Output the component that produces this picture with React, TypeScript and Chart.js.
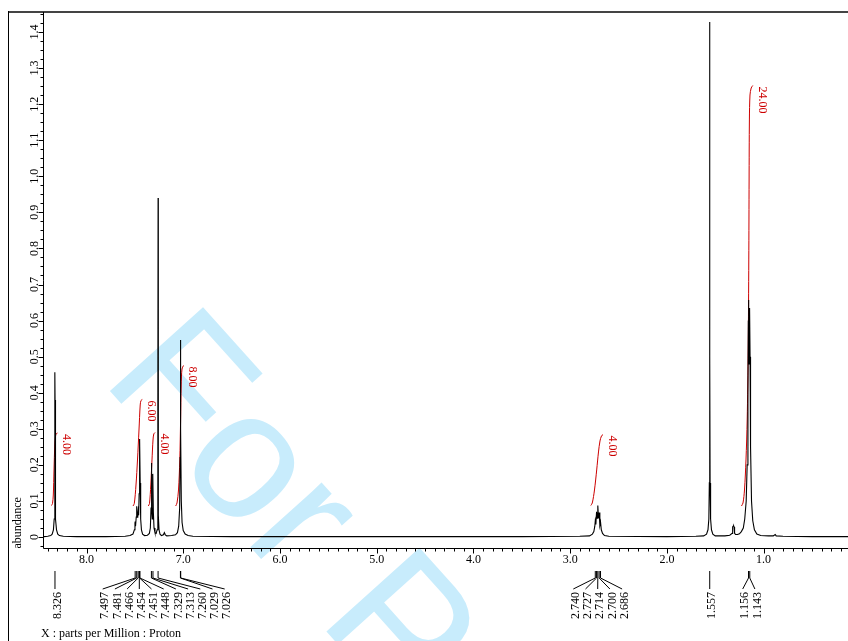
import React, { useEffect, useRef } from "react";
import { Chart, registerables } from "chart.js";

Chart.register(...registerables);

// ---- axis ranges (ppm reversed, abundance) ----
const X_MIN = 0.1275;
const X_MAX = 8.4394;
const Y_MIN = -0.0305;
const Y_MAX = 1.4555;

const xTickValues = [8, 7, 6, 5, 4, 3, 2, 1];
const xTickLabels = ["8.0", "7.0", "6.0", "5.0", "4.0", "3.0", "2.0", "1.0"];
const yTickValues = [0, 0.1, 0.2, 0.3, 0.4, 0.5, 0.6, 0.7, 0.8, 0.9, 1.0, 1.1, 1.2, 1.3, 1.4];
const yTickLabels = ["0", "0.1", "0.2", "0.3", "0.4", "0.5", "0.6", "0.7", "0.8", "0.9", "1.0", "1.1", "1.2", "1.3", "1.4"];

// ---- spectrum (ppm, abundance) ----
const spectrumPpm = [
  8.4394, 8.4, 8.37, 8.355, 8.342, 8.334, 8.329, 8.327, 8.326, 8.325, 8.323, 8.318, 8.31, 8.297, 8.28, 8.24, 8.1, 7.8,
  7.6, 7.55, 7.52, 7.505, 7.499, 7.497, 7.493, 7.486, 7.481, 7.476, 7.47, 7.466, 7.461, 7.456, 7.454, 7.452, 7.45, 7.448,
  7.445, 7.44, 7.432, 7.42, 7.4, 7.37, 7.35, 7.34, 7.333, 7.329, 7.325, 7.32, 7.317, 7.313, 7.309, 7.302, 7.292, 7.28,
  7.27, 7.264, 7.261, 7.26, 7.259, 7.256, 7.25, 7.24, 7.225, 7.205, 7.195, 7.185, 7.17, 7.12, 7.08, 7.06, 7.047, 7.037,
  7.032, 7.03, 7.029, 7.0275, 7.026, 7.024, 7.02, 7.012, 7.0, 6.98, 6.95, 6.9, 6.5, 5.5, 4.5, 3.5, 2.9, 2.8, 2.77, 2.755,
  2.745, 2.74, 2.734, 2.727, 2.721, 2.714, 2.707, 2.7, 2.693, 2.686, 2.678, 2.665, 2.645, 2.6, 2.0, 1.7, 1.62, 1.59, 1.575,
  1.566, 1.561, 1.559, 1.557, 1.555, 1.553, 1.548, 1.539, 1.525, 1.5, 1.4, 1.35, 1.325, 1.32, 1.315, 1.31, 1.305, 1.3,
  1.29, 1.27, 1.25, 1.23, 1.21, 1.195, 1.18, 1.17, 1.162, 1.158, 1.156, 1.153, 1.15, 1.147, 1.143, 1.14, 1.135, 1.125,
  1.112, 1.095, 1.07, 1.03, 0.95, 0.9, 0.88, 0.87, 0.8, 0.5, 0.1275,
];
const spectrumAbundance = [
  0.001, 0.002, 0.004, 0.008, 0.02, 0.05, 0.15, 0.38, 0.457, 0.38, 0.15, 0.05, 0.02, 0.008, 0.004, 0.002, 0.001, 0.001,
  0.002, 0.004, 0.008, 0.02, 0.038, 0.043, 0.03, 0.055, 0.085, 0.055, 0.06, 0.072, 0.06, 0.12, 0.18, 0.15, 0.26, 0.272,
  0.15, 0.05, 0.02, 0.008, 0.004, 0.005, 0.01, 0.025, 0.08, 0.205, 0.08, 0.05, 0.07, 0.175, 0.07, 0.025, 0.012, 0.01,
  0.02, 0.06, 0.35, 0.94, 0.35, 0.06, 0.02, 0.008, 0.004, 0.006, 0.012, 0.006, 0.003, 0.004, 0.006, 0.012, 0.03, 0.08,
  0.22, 0.45, 0.546, 0.44, 0.505, 0.3, 0.1, 0.04, 0.018, 0.008, 0.004, 0.002, 0.001, 0.001, 0.001, 0.001, 0.002, 0.003, 0.008, 0.015,
  0.03, 0.045, 0.035, 0.07, 0.052, 0.087, 0.052, 0.068, 0.033, 0.042, 0.02, 0.01, 0.004, 0.002, 0.001, 0.002, 0.003, 0.008, 0.02,
  0.05, 0.15, 0.5, 1.428, 0.5, 0.15, 0.05, 0.02, 0.008, 0.003, 0.003, 0.005, 0.01, 0.028, 0.03, 0.031, 0.028, 0.01,
  0.007, 0.007, 0.009, 0.015, 0.025, 0.05, 0.1, 0.2, 0.4, 0.6, 0.657, 0.55, 0.48, 0.55, 0.635, 0.5, 0.25, 0.1,
  0.045, 0.02, 0.008, 0.004, 0.003, 0.003, 0.007, 0.003, 0.002, 0.001, 0.001,
];

// ---- integral curves ----
const integral1Ppm = [8.3618, 8.3515, 8.3432, 8.336, 8.3277, 8.3205, 8.3101, 8.2998];
const integral1Val = [0.0873, 0.0929, 0.1164, 0.1857, 0.2551, 0.28, 0.2869, 0.2883];
const integral2Ppm = [7.5193, 7.5058, 7.4883, 7.4728, 7.4573, 7.4448, 7.4366, 7.4231];
const integral2Val = [0.0859, 0.0929, 0.1442, 0.2135, 0.2966, 0.366, 0.3784, 0.3812];
const integral3Ppm = [7.3611, 7.3487, 7.3353, 7.3229, 7.3125, 7.3043, 7.2918];
const integral3Val = [0.0859, 0.0929, 0.1442, 0.2135, 0.2689, 0.2856, 0.2897];
const integral4Ppm = [7.0779, 7.0644, 7.0489, 7.0355, 7.0272, 7.021, 7.0127, 6.9972];
const integral4Val = [0.0859, 0.0943, 0.1303, 0.2135, 0.3244, 0.4214, 0.4658, 0.4755];
const integral5Ppm = [2.7866, 2.7711, 2.7484, 2.7256, 2.707, 2.6915, 2.676, 2.6605];
const integral5Val = [0.0873, 0.0943, 0.1303, 0.1858, 0.2357, 0.2662, 0.28, 0.2842];
const integral6Ppm = [1.2286, 1.2131, 1.1976, 1.1821, 1.1697, 1.1593, 1.1531, 1.15, 1.1469, 1.1407, 1.1283, 1.1118];
const integral6Val = [0.0859, 0.0943, 0.1303, 0.2135, 0.3244, 0.5184, 0.768, 0.9897, 1.1561, 1.2254, 1.2448, 1.2517];
const integralLabels = ["4.00", "6.00", "4.00", "8.00", "4.00", "24.00"];

// ---- peak picking labels ----
const peakGroup1 = ["8.326"];
const peakGroup2 = ["7.497", "7.481", "7.466", "7.454", "7.451", "7.448", "7.329", "7.313", "7.260", "7.029", "7.026"];
const peakGroup3 = ["2.740", "2.727", "2.714", "2.700", "2.686"];
const peakGroup4 = ["1.557"];
const peakGroup5 = ["1.156", "1.143"];

const AXIS_TITLE_X = "X : parts per Million : Proton";
const AXIS_TITLE_Y = "abundance";
const WATERMARK = "For Peer Review";

const SERIF = "'Liberation Serif', 'Times New Roman', serif";
const RED = "rgb(205,0,0)";

function pts(xs: number[], ys: number[]) {
  return xs.map((x, i) => ({ x, y: ys[i] }));
}

const decorPlugin = {
  id: "nmrDecor",
  beforeDraw(chart: any) {
    const ctx = chart.ctx as CanvasRenderingContext2D;
    ctx.save();
    ctx.fillStyle = "#ffffff";
    ctx.fillRect(0, 0, chart.width, chart.height);
    // watermark
    ctx.translate(100, 380);
    ctx.rotate((48 * Math.PI) / 180);
    ctx.font = "182px 'Liberation Sans', Arial, sans-serif";
    ctx.fillStyle = "rgb(200,236,252)";
    ctx.textBaseline = "alphabetic";
    ctx.textAlign = "left";
    ctx.fillText(WATERMARK, 0, 0);
    ctx.restore();
  },
  afterDraw(chart: any) {
    const ctx = chart.ctx as CanvasRenderingContext2D;
    const xs = chart.scales.x;
    const ys = chart.scales.y;
    const area = chart.chartArea;
    const axisX = area.left - 0.5;
    const axisY = area.bottom + 0.5;
    ctx.save();

    // frame
    ctx.fillStyle = "#444";
    ctx.fillRect(8, 11, chart.width - 8, 2);
    ctx.fillStyle = "#000";
    ctx.fillRect(8, 11, 1, chart.height - 11);

    ctx.strokeStyle = "#000";
    ctx.lineWidth = 1;
    ctx.beginPath();
    ctx.moveTo(axisX, area.top);
    ctx.lineTo(axisX, axisY);
    ctx.lineTo(area.right, axisY);
    ctx.stroke();

    // x ticks: every 0.1 ppm
    ctx.beginPath();
    for (let k = 2; k <= 84; k++) {
      const px = Math.round(xs.getPixelForValue(k / 10)) + 0.5;
      const len = k % 10 === 0 ? 5 : 3;
      ctx.moveTo(px, axisY);
      ctx.lineTo(px, axisY + len);
    }
    // y ticks every 0.025
    for (let k = -1; k <= 58; k++) {
      const v = k * 0.025;
      const py = Math.round(ys.getPixelForValue(v)) + 0.5;
      const len = k % 4 === 0 ? 5 : 3;
      ctx.moveTo(axisX - len, py);
      ctx.lineTo(axisX, py);
    }
    ctx.stroke();

    ctx.fillStyle = "#000";
    ctx.font = `12px ${SERIF}`;
    ctx.textAlign = "center";
    ctx.textBaseline = "middle";
    xTickValues.forEach((v, i) => {
      ctx.fillText(xTickLabels[i], xs.getPixelForValue(v), axisY + 11);
    });
    yTickValues.forEach((v, i) => {
      const py = ys.getPixelForValue(v);
      ctx.save();
      ctx.translate(35, py);
      ctx.rotate(-Math.PI / 2);
      ctx.fillText(yTickLabels[i], 0, 0);
      ctx.restore();
    });

    // axis titles
    ctx.save();
    ctx.translate(18, axisY);
    ctx.rotate(-Math.PI / 2);
    ctx.textAlign = "left";
    ctx.fillText(AXIS_TITLE_Y, 0, 0);
    ctx.restore();
    ctx.textAlign = "left";
    ctx.fillText(AXIS_TITLE_X, 41, 634);

    // peak labels
    const groups = [peakGroup1, peakGroup2, peakGroup3, peakGroup4, peakGroup5];
    const startPx: (number | null)[] = [null, 102.7, 573.3, null, 742.7];
    const spacing = 12.2;
    ctx.beginPath();
    groups.forEach((g, gi) => {
      g.forEach((lab, i) => {
        const peakX = xs.getPixelForValue(parseFloat(lab));
        const sp = startPx[gi];
        const endX = sp === null ? peakX : sp + i * spacing;
        ctx.moveTo(peakX, 571);
        ctx.lineTo(peakX, 578);
        ctx.lineTo(endX, 589);
      });
    });
    ctx.stroke();
    groups.forEach((g, gi) => {
      g.forEach((lab, i) => {
        const peakX = xs.getPixelForValue(parseFloat(lab));
        const sp = startPx[gi];
        const endX = sp === null ? peakX : sp + i * spacing;
        ctx.save();
        ctx.translate(endX + 2.5, 592);
        ctx.rotate(-Math.PI / 2);
        ctx.textAlign = "right";
        ctx.fillText(lab, 0, 0);
        ctx.restore();
      });
    });

    // integral labels
    ctx.fillStyle = RED;
    const ints = [
      [integral1Ppm, integral1Val],
      [integral2Ppm, integral2Val],
      [integral3Ppm, integral3Val],
      [integral4Ppm, integral4Val],
      [integral5Ppm, integral5Val],
      [integral6Ppm, integral6Val],
    ];
    ints.forEach(([p, v], i) => {
      const lx = xs.getPixelForValue(p[p.length - 1]);
      const ly = ys.getPixelForValue(v[v.length - 1]);
      ctx.save();
      ctx.translate(lx + 9, ly + 1);
      ctx.rotate(Math.PI / 2);
      ctx.textAlign = "left";
      ctx.fillText(integralLabels[i], 0, 0);
      ctx.restore();
    });

    ctx.restore();
  },
};

export default function App() {
  const ref = useRef<HTMLCanvasElement | null>(null);
  useEffect(() => {
    if (!ref.current) return;
    const redLine = (xsArr: number[], ysArr: number[]) => ({
      data: pts(xsArr, ysArr),
      borderColor: RED,
      borderWidth: 1,
      pointRadius: 0,
      tension: 0.3,
      fill: false,
    });
    const chart = new Chart(ref.current, {
      type: "line",
      data: {
        datasets: [
          {
            data: pts(spectrumPpm, spectrumAbundance),
            borderColor: "#000",
            borderWidth: 1.1,
            pointRadius: 0,
            tension: 0,
            fill: false,
          },
          redLine(integral1Ppm, integral1Val),
          redLine(integral2Ppm, integral2Val),
          redLine(integral3Ppm, integral3Val),
          redLine(integral4Ppm, integral4Val),
          redLine(integral5Ppm, integral5Val),
          redLine(integral6Ppm, integral6Val),
        ] as any,
      },
      options: {
        responsive: false,
        animation: false,
        events: [],
        layout: { padding: { left: 44, right: 0, top: 12, bottom: 93 } },
        scales: {
          x: { type: "linear", min: X_MIN, max: X_MAX, reverse: true, display: false },
          y: { type: "linear", min: Y_MIN, max: Y_MAX, display: false },
        },
        plugins: { legend: { display: false }, tooltip: { enabled: false } },
      },
      plugins: [decorPlugin],
    });
    return () => chart.destroy();
  }, []);
  return (
    <div style={{ position: "absolute", left: 0, top: 0, width: 848, height: 641, background: "#fff" }}>
      <canvas ref={ref} width={848} height={641} style={{ display: "block", width: 848, height: 641 }} />
    </div>
  );
}
